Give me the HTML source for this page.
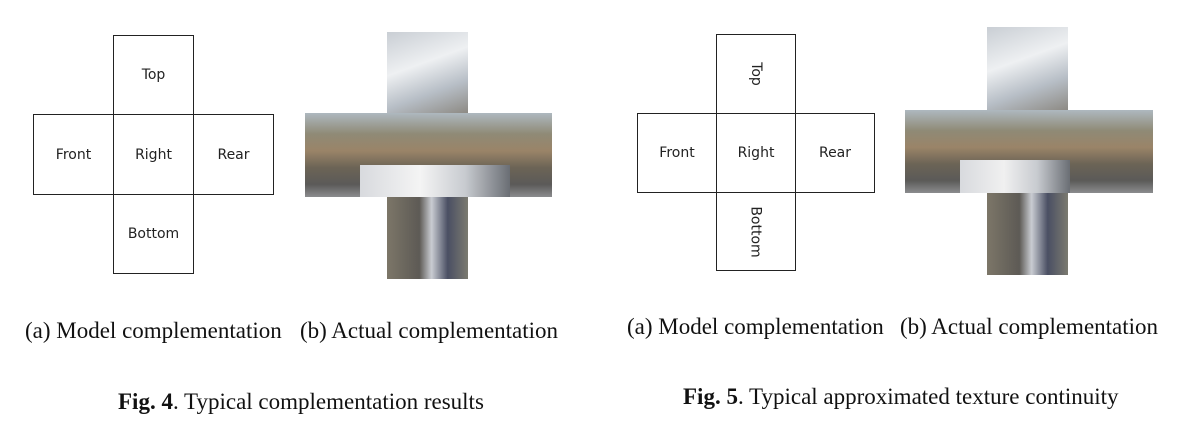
<!DOCTYPE html>
<html><head><style>
body{margin:0;width:1196px;height:423px;background:#fff;position:relative;overflow:hidden;font-family:"Liberation Serif",serif}
.b{position:absolute;border:1px solid #222;box-sizing:border-box;font-family:"DejaVu Sans","Liberation Sans",sans-serif;font-size:14px;color:#222;display:flex;align-items:center;justify-content:center}
.p{position:absolute}
.t{position:absolute;font-size:23px;color:#111;white-space:nowrap}
.sky{background:linear-gradient(160deg,#c9ced4,#eef0f2 40%,#b7bec6 70%,#8d8a84)}
.mid{background:linear-gradient(180deg,#aeb8bf 0%,#8f8a76 25%,#9a8468 45%,#6c6456 65%,#5b5a58 85%,#8b8c8e)}
.bot{background:linear-gradient(90deg,#7c7668,#5d5a55 40%,#c9ccd2 55%,#4a4f63 75%,#7b7a70)}
.rot{transform:rotate(90deg);display:inline-block}
</style></head><body>
<div class="b" style="left:113px;top:35px;width:81px;height:80px">Top</div>
<div class="b" style="left:33px;top:114px;width:81px;height:81px">Front</div>
<div class="b" style="left:113px;top:114px;width:81px;height:81px">Right</div>
<div class="b" style="left:193px;top:114px;width:81px;height:81px">Rear</div>
<div class="b" style="left:113px;top:194px;width:81px;height:80px">Bottom</div>

<div class="p sky" style="left:387px;top:32px;width:81px;height:81px"></div>
<div class="p mid" style="left:305px;top:113px;width:247px;height:84px"></div>
<div class="p" style="left:360px;top:165px;width:150px;height:32px;background:linear-gradient(90deg,#d8dade,#f4f4f4 40%,#c8cbd0 70%,#6a6e74)"></div>
<div class="p bot" style="left:387px;top:197px;width:81px;height:82px"></div>

<div class="b" style="left:716px;top:34px;width:80px;height:80px"><span class="rot">Top</span></div>
<div class="b" style="left:637px;top:113px;width:80px;height:80px">Front</div>
<div class="b" style="left:716px;top:113px;width:80px;height:80px">Right</div>
<div class="b" style="left:795px;top:113px;width:80px;height:80px">Rear</div>
<div class="b" style="left:716px;top:192px;width:80px;height:79px"><span class="rot">Bottom</span></div>

<div class="p sky" style="left:987px;top:27px;width:81px;height:83px"></div>
<div class="p mid" style="left:905px;top:110px;width:248px;height:83px"></div>
<div class="p" style="left:960px;top:160px;width:110px;height:33px;background:linear-gradient(90deg,#d8dade,#f0f0f0 40%,#c8cbd0 70%,#6a6e74)"></div>
<div class="p bot" style="left:987px;top:193px;width:81px;height:82px"></div>

<div class="t" style="left:25px;top:318px">(a) Model complementation</div>
<div class="t" style="left:300px;top:318px">(b) Actual complementation</div>
<div class="t" style="left:627px;top:314px">(a) Model complementation</div>
<div class="t" style="left:900px;top:314px">(b) Actual complementation</div>
<div class="t" style="left:118px;top:389px"><b>Fig. 4</b>. Typical complementation results</div>
<div class="t" style="left:683px;top:384px"><b>Fig. 5</b>. Typical approximated texture continuity</div>
</body></html>
